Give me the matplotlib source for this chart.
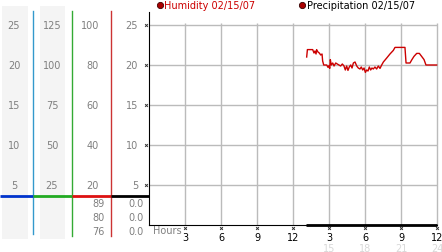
import matplotlib
matplotlib.use("Agg")
import matplotlib.pyplot as plt

# 数据
hum_hours = [13.14, 13.2, 13.56, 13.64, 13.75, 13.83, 13.92, 13.97, 14.08, 14.19, 14.31,
             14.42, 14.47, 14.56, 14.81, 14.92, 15.0, 15.06, 15.11, 15.19, 15.31,
             15.42, 15.56, 15.69, 15.83, 15.97, 16.11, 16.25, 16.36, 16.47, 16.58,
             16.69, 16.81, 16.92, 17.03, 17.17, 17.31, 17.44, 17.58, 17.69, 17.81,
             17.92, 18.03, 18.14, 18.25, 18.36, 18.47, 18.58, 18.69, 18.83, 18.97,
             19.11, 19.25, 19.39, 19.53, 19.67, 19.81, 20.08, 20.36, 20.5, 21.33,
             21.42, 21.75, 21.89, 22.08, 22.31, 22.53, 22.72, 22.92, 23.08, 23.97]
humidity = [84.0, 87.7, 87.7, 87.7, 86.0, 87.0, 85.5, 87.7, 86.5, 86.0, 85.0,
            85.5, 82.0, 80.0, 80.0, 78.8, 79.7, 78.3, 82.7, 80.0, 81.0,
            79.5, 81.0, 80.5, 80.0, 79.5, 80.5, 79.5, 77.5, 79.5, 77.3,
            79.0, 80.0, 78.5, 81.0, 81.5, 79.5, 78.5, 78.0, 79.0, 77.5,
            78.5, 76.3, 77.5, 77.0, 79.0, 77.5, 78.5, 78.0, 79.0, 78.0,
            79.5, 78.3, 80.0, 81.5, 82.5, 83.5, 85.5, 87.3, 88.8, 88.8,
            81.0, 81.0, 82.5, 84.3, 85.8, 85.8, 84.3, 82.7, 80.0, 80.0]
precip_hours = [13.1, 24.0]
precip = [0.0, 0.0]

hour_ticks = [3, 6, 9, 12, 15, 18, 21, 24]
hour_labels = ["3", "6", "9", "12", "3", "6", "9", "12"]
hour24_ticks = [15, 18, 21, 24]
hour24_labels = ["15", "18", "21", "24"]

col1_ticks = [25, 20, 15, 10, 5]
col2_ticks = [125, 100, 75, 50, 25]
col3_ticks = [100, 80, 60, 40, 20]
col4_ticks = [25, 20, 15, 10, 5]
hum_stats = ["89", "80", "76"]
precip_stats = ["0.0", "0.0", "0.0"]

W, H = 442, 253
GRAY = "#7f7f7f"
RED = "#cc0000"
FS = 7


def fr(x0, y0, x1, y1):
    # 像素 -> 图坐标
    return [x0 / W, 1 - y1 / H, (x1 - x0) / W, (y1 - y0) / H]


fig = plt.figure(figsize=(W / 100, H / 100), dpi=100)
fig.patch.set_facecolor("white")

# 背景层 (像素坐标)
bg = fig.add_axes([0, 0, 1, 1], zorder=0)
bg.set_xlim(0, W)
bg.set_ylim(H, 0)
bg.axis("off")
bg.fill_between([2, 28], 7, 240, color="#f4f4f4", lw=0)
bg.fill_between([40, 65], 7, 240, color="#f4f4f4", lw=0)
bg.plot([33, 33], [12, 235], color="#3399cc", lw=1)
bg.plot([72, 72], [12, 237], color="#33aa33", lw=1)
bg.plot([111, 111], [12, 237], color="#cc3333", lw=1)
bg.plot([0, 33], [197, 197], color="#0033cc", lw=2, solid_capstyle="butt")
bg.plot([33, 72], [197, 197], color="#22aa22", lw=2, solid_capstyle="butt")
bg.plot([72, 111], [197, 197], color="#dd1111", lw=2, solid_capstyle="butt")
bg.plot([111, 149], [197, 197], color="black", lw=2, solid_capstyle="butt")

# 统计值
for i, (a, b) in enumerate(zip(hum_stats, precip_stats)):
    y = 204 + 14 * i
    bg.text(105, y, a, color=GRAY, fontsize=FS, ha="right", va="center")
    bg.text(144, y, b, color=GRAY, fontsize=FS, ha="right", va="center")

# 图例
bg.plot([160], [6], "o", ms=4.5, mfc="#aa0000", mec="#440000", mew=0.6)
bg.text(164, 6, "Humidity 02/15/07", color=RED, fontsize=FS, va="center")
bg.plot([302], [6], "o", ms=4.5, mfc="#aa0000", mec="#330000", mew=0.6)
bg.text(307, 6, "Precipitation 02/15/07", color="black", fontsize=FS, va="center")

# 主图
ytop = 25 * (226 - 13) / 200
xmax = 24 * (441 - 149) / 288
ax = fig.add_axes(fr(149, 13, 441, 226), zorder=2)
ax.patch.set_alpha(0)
ax.set_xlim(0, xmax)
ax.set_ylim(0, ytop)
for s in ["top", "right"]:
    ax.spines[s].set_visible(False)
ax.spines["left"].set_color("black")
ax.spines["bottom"].set_color("black")
ax.spines["bottom"].set_bounds(0, 24)
ax.hlines(col4_ticks, 0, 24, color="#bbbbbb", lw=1, zorder=1)
ax.vlines(hour_ticks, 0, 25.3, color="#bbbbbb", lw=1, zorder=1)
ax.set_yticks([])
ax.set_xticks(hour_ticks)
ax.set_xticklabels(hour_labels, fontsize=7, color="black")
ax.tick_params(axis="x", length=0, pad=5)

# 刻度小记号
ax.plot([-0.25] * len(col4_ticks), col4_ticks, "x", ms=2, mew=0.7,
        color="#333333", clip_on=False)
ax.plot(hour_ticks, [-0.4] * len(hour_ticks), "x", ms=2, mew=0.7,
        color="#333333", clip_on=False)

xt = ax.get_xaxis_transform()
for h, lab in zip(hour24_ticks, hour24_labels):
    ax.text(h, -23 / 213, lab, transform=xt, color="#d8d8d8", fontsize=7,
            ha="center", va="center")
ax.text(4 / 292, -5 / 213, "Hours", transform=ax.transAxes, color=GRAY,
        fontsize=FS, ha="left", va="center")

# 降水
ax.plot(precip_hours, precip, color="black", lw=2, solid_capstyle="butt",
        clip_on=False, zorder=3)

# 湿度 (0-100 刻度)
ax2 = ax.twinx()
ax2.set_ylim(0, ytop * 4)
ax2.axis("off")
ax2.plot(hum_hours, humidity, color=RED, lw=1)

# 左侧刻度列
scales = [(0, 33, col1_ticks, ytop, 14, "center"),
          (33, 72, col2_ticks, ytop * 5, 52, "center"),
          (72, 111, col3_ticks, ytop * 4, 99, "right"),
          (111, 149, col4_ticks, ytop, 138, "right")]
for x0, x1, ticks, top, tx, ha in scales:
    c = fig.add_axes(fr(x0, 13, x1, 226), zorder=1)
    c.set_xlim(x0, x1)
    c.set_ylim(0, top)
    c.axis("off")
    for v in ticks:
        c.text(tx, v, str(v), color=GRAY, fontsize=FS, ha=ha, va="center")

fig.savefig("out.png", dpi=100)
